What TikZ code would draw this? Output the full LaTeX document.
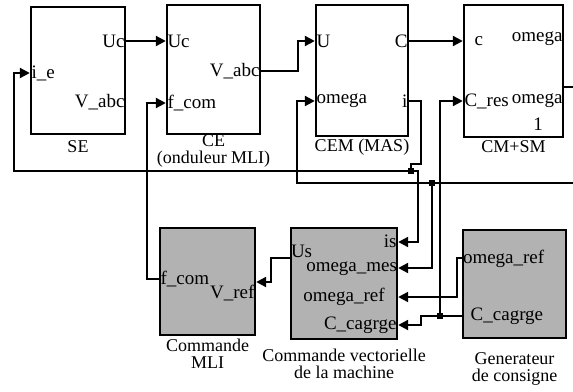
\documentclass[tikz,border=0pt]{standalone}
\usepackage{fontspec}
\setmainfont{Liberation Serif}
\usetikzlibrary{arrows.meta}
\begin{document}
\begin{tikzpicture}[x=1pt,y=-1pt,
    every node/.style={font=\fontsize{19}{16}\selectfont},
    blk/.style={draw,line width=2.4pt,inner sep=0pt},
    cmd/.style={blk,fill=black!30},
    port/.style={inner sep=1.5pt},
    title/.style={align=center,inner sep=0pt,font=\fontsize{18}{17}\selectfont},
    wire/.style={line width=2.2pt},
    sig/.style={wire,-{Triangle[length=10pt,width=10pt]}},
    dot/.style={fill,inner sep=0pt,minimum size=6pt}]
\useasboundingbox (0,0) rectangle (573,391);

\node[blk,minimum width=94pt,minimum height=127pt] (se) at (78,70.5) {};
\node[blk,minimum width=93pt,minimum height=129pt] (ce) at (213.5,69.5) {};
\node[blk,minimum width=92pt,minimum height=131pt] (cem) at (362,70.5) {};
\node[blk,minimum width=99pt,minimum height=132pt] (cm) at (513.5,71) {};
\node[cmd,minimum width=95pt,minimum height=107pt] (mli) at (207.5,281.5) {};
\node[cmd,minimum width=106pt,minimum height=111pt] (cv) at (344,283.5) {};
\node[cmd,minimum width=103pt,minimum height=108pt] (gen) at (514.5,284) {};

\node[port,anchor=east] (seUc) at (se.east |- 0,41) {Uc};
\node[port,anchor=west] (seIe) at (se.west |- 0,73) {i\_e};
\node[port,anchor=east] (seV) at (se.east |- 0,102) {V\_abc};
\node[port,anchor=west] (ceUc) at (ce.west |- 0,41) {Uc};
\node[port,anchor=east] (ceV) at (ce.east |- 0,71) {V\_abc};
\node[port,anchor=west] (ceF) at (ce.west |- 0,103) {f\_com};
\node[port,anchor=west] (cemU) at (cem.west |- 0,41) {U};
\node[port,anchor=east] (cemC) at (cem.east |- 0,41) {C};
\node[port,anchor=west] (cemW) at (cem.west |- 0,101) {omega};
\node[port,anchor=east] (cemI) at (cem.east |- 0,101) {i};
\node[port,anchor=west] (cmC) at (473,41) {c};
\node[port,anchor=east] (cmW) at (cm.east |- 0,39) {omega};
\node[port,anchor=west] (cmCres) at (cm.west |- 0,101) {C\_res};
\node[port,anchor=east] (cmW1) at (cm.east |- 0,101) {omega};
\node (cmOne) at (538,124) {1};

\node[port,anchor=west] (mliF) at (mli.west |- 0,279) {f\_com};
\node[port,anchor=east] (mliV) at (mli.east |- 0,293) {V\_ref};
\node[port,anchor=east] (cvIs) at (cv.east |- 0,241) {is};
\node[port,anchor=west,inner sep=0pt] (cvUs) at ([xshift=1pt]cv.west |- 0,251) {Us};
\node[port,anchor=east,inner sep=1pt] (cvWm) at (cv.east |- 0,269) {omega\_mes};
\node[port] (cvWr) at (344,297) {omega\_ref};
\node[port,anchor=east] (cvC) at (cv.east |- 0,325) {C\_cagrge};
\node[port,anchor=west,inner sep=0pt] (genWr) at ([xshift=1pt]gen.west |- 0,259) {omega\_ref};
\node[port,anchor=west] (genC) at (469,316) {C\_cagrge};

\node[title] (seT) at (78,147) {SE};
\node[title] (ceT) at (213.5,151) {CE\\(onduleur MLI)};
\node[title] (cemT) at (362,147) {CEM (MAS)};
\node[title] (cmT) at (513.5,147) {CM+SM};
\node[title] (mliT) at (207.5,354) {Commande\\MLI};
\node[title] (cvT) at (344,364) {Commande vectorielle\\de la machine};
\node[title] (genT) at (514.5,369) {Generateur\\de consigne};

\coordinate (jI) at (411,171);
\coordinate (jW) at (432,183);
\coordinate (jC) at (440,316);
\coordinate (wIn) at (573,183);
\coordinate (wOut) at (573,87);

\draw[sig] (se.east |- seUc) -- (ce.west |- ceUc);
\draw[sig] (ce.east |- ceV) -- ++(37,0) |- (cem.west |- cemU);
\draw[sig] (cem.east |- cemC) -- (cm.west |- cmC);
\draw[wire] (cm.east |- wOut) -- (wOut);
\draw[wire] (cem.east |- cemI) -| (421,164) -| (jI);
\draw[sig] (jI) -- (14,171) |- (se.west |- seIe);
\draw[sig] (jI) -| ([xshift=20pt]cv.east |- 0,242) -- (cv.east |- 0,242);
\draw[sig] (wIn) -- (297,183) |- (cem.west |- cemW);
\draw[sig] (jW) |- (cv.east |- 0,268);
\draw[sig] (gen.west |- 0,258) -- ++(-5,0) |- (cv.east |- cvWr);
\draw[sig] (gen.west |- genC) -| ([xshift=23pt]cv.east |- cvC) -- (cv.east |- cvC);
\draw[sig] (jC) |- (cm.west |- cmCres);
\draw[sig] (cv.west |- 0,258) -- ++(-19,0) |- (mli.east |- 0,282);
\draw[sig] (mli.west |- mliF) -- ++(-12,0) |- (ce.west |- ceF);

\node[dot] at (jI) {};
\node[dot] at (jW) {};
\node[dot] at (jC) {};
\end{tikzpicture}
\end{document}
